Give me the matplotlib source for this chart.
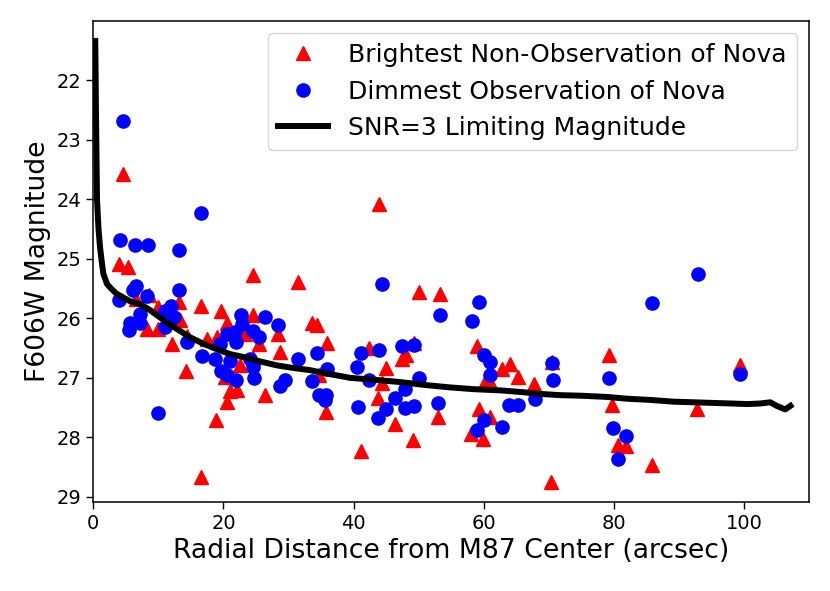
import matplotlib
matplotlib.use("Agg")
import matplotlib.pyplot as plt

# Brightest non-observation of nova (red triangles)
tri_x = [4.5, 4.0, 5.4, 6.5, 8.6, 8.3, 10.0, 10.0, 13.2, 13.3, 12.05, 14.4, 14.25,
         16.5, 17.5, 19.0, 19.6, 20.5, 24.6, 24.6, 23.3, 25.4, 28.4, 28.7, 24.6,
         22.55, 21.0, 22.0, 20.5, 20.2, 26.4, 18.9, 16.56, 31.5, 33.6, 34.4, 35.9,
         34.7, 35.7, 43.9, 50.1, 53.3, 42.4, 49.2, 47.4, 48.1, 45.0, 44.3, 43.8,
         46.4, 49.1, 41.1, 58.9, 60.2, 61.0, 62.8, 64.0, 65.3, 67.7, 70.5, 59.2,
         61.0, 58.0, 59.9, 52.9, 70.3, 79.2, 99.4, 79.7, 92.8, 80.6, 81.9, 85.9]
tri_m = [23.58, 25.09, 25.14, 25.68, 25.60, 26.18, 26.18, 25.81, 25.72, 26.03, 26.43,
         26.30, 26.88, 25.80, 26.34, 26.32, 25.88, 26.07, 25.28, 25.95, 26.26, 26.43,
         26.26, 26.57, 26.66, 26.79, 27.22, 27.20, 27.41, 26.99, 27.29, 27.70, 28.66,
         25.39, 26.07, 26.12, 26.42, 26.95, 27.58, 24.08, 25.56, 25.59, 26.50, 26.42,
         26.68, 26.62, 26.83, 27.09, 27.33, 27.77, 28.04, 28.22, 26.46, 27.07, 27.07,
         26.85, 26.77, 26.98, 27.11, 26.74, 27.52, 27.66, 27.95, 28.02, 27.65, 28.75,
         26.61, 26.79, 27.46, 27.52, 28.13, 28.15, 28.47]

# Dimmest observation of nova (blue circles)
dot_x = [4.5, 16.56, 4.1, 6.36, 8.4, 13.1, 13.1, 6.56, 6.05, 8.2, 4.0, 11.9, 11.0,
         12.4, 7.2, 5.6, 7.2, 5.5, 11.0, 14.4, 16.7, 22.65, 26.4, 28.3, 22.8, 20.5,
         21.8, 24.6, 25.4, 21.9, 19.4, 18.7, 21.0, 24.1, 24.6, 31.5, 34.3, 35.9,
         19.6, 20.5, 21.9, 24.7, 28.7, 29.5, 33.6, 34.6, 35.8, 35.6, 10.0, 44.3,
         53.3, 58.2, 59.3, 41.2, 40.5, 43.9, 47.4, 49.2, 42.3, 50.1, 47.9, 46.4,
         45.0, 43.8, 40.6, 47.9, 49.2, 52.9, 60.0, 61.0, 61.0, 63.8, 65.3, 67.8,
         60.0, 59.0, 62.8, 70.5, 70.6, 92.9, 85.9, 79.2, 99.4, 79.8, 81.9, 80.6]
dot_m = [22.68, 24.23, 24.68, 24.76, 24.76, 24.86, 25.53, 25.45, 25.52, 25.62, 25.69,
         25.80, 25.87, 25.97, 25.92, 26.07, 26.08, 26.20, 26.15, 26.40, 26.63, 25.94,
         25.97, 26.12, 26.09, 26.26, 26.23, 26.22, 26.32, 26.40, 26.43, 26.68, 26.71,
         26.68, 26.82, 26.69, 26.58, 26.85, 26.89, 26.96, 27.04, 27.01, 27.13, 27.04,
         27.06, 27.29, 27.28, 27.37, 27.59, 25.42, 25.94, 26.05, 25.73, 26.59, 26.82,
         26.53, 26.47, 26.44, 27.04, 27.00, 27.19, 27.34, 27.52, 27.67, 27.49, 27.51,
         27.47, 27.42, 26.61, 26.74, 26.96, 27.46, 27.46, 27.36, 27.71, 27.87, 27.83,
         26.75, 27.04, 25.25, 25.75, 27.00, 26.94, 27.84, 27.98, 28.36]

# SNR=3 limiting magnitude curve
lim_x = [0.3, 0.35, 0.4, 0.46, 0.57, 0.8, 1.03, 1.3, 1.54, 2.1, 2.57, 3.5, 4.6, 5.6,
         7.2, 8.7, 9.8, 12.0, 14.9, 17.0, 19.0, 21.0, 23.1, 25.5, 28.2, 30.5, 33.3,
         36.0, 39.5, 43.0, 47.1, 51.0, 54.8, 58.5, 62.5, 66.0, 68.7, 71.7, 75.0,
         78.9, 82.0, 85.5, 89.2, 92.2, 95.0, 97.9, 100.5, 102.5, 104.0, 105.0,
         106.3, 107.1]
lim_m = [21.34, 21.8, 22.4, 23.0, 24.0, 24.5, 24.8, 25.05, 25.25, 25.42, 25.48, 25.58,
         25.65, 25.71, 25.76, 25.86, 25.95, 26.12, 26.32, 26.43, 26.52, 26.60, 26.65,
         26.72, 26.79, 26.83, 26.87, 26.93, 27.00, 27.03, 27.07, 27.12, 27.16, 27.19,
         27.21, 27.24, 27.27, 27.29, 27.30, 27.32, 27.35, 27.37, 27.40, 27.41, 27.42,
         27.43, 27.44, 27.43, 27.41, 27.47, 27.53, 27.47]

fig = plt.figure(figsize=(8.3, 5.91), dpi=100)
ax = fig.add_axes([93.3 / 830, 1 - 501.7 / 591, (809.3 - 93.3) / 830, (501.7 - 20.7) / 591])

ax.plot(tri_x, tri_m, linestyle="none", marker="^", color="red", markersize=10,
        label="Brightest Non-Observation of Nova")
ax.plot(dot_x, dot_m, linestyle="none", marker="o", color="blue", markersize=9.5,
        label="Dimmest Observation of Nova")
ax.plot(lim_x, lim_m, color="black", linewidth=4.3, label="SNR=3 Limiting Magnitude")

ax.set_xlim(0, 110)
ax.set_ylim(29.08, 21.0)
ax.set_xticks([0, 20, 40, 60, 80, 100])
ax.set_yticks([22, 23, 24, 25, 26, 27, 28, 29])
ax.tick_params(labelsize=14, length=5, width=1)
for s in ax.spines.values():
    s.set_linewidth(1.1)

ax.set_xlabel("Radial Distance from M87 Center (arcsec)", fontsize=19.2)
ax.set_ylabel("F606W Magnitude", fontsize=19.2)
ax.legend(loc="upper right", fontsize=18, handlelength=2.0)

fig.savefig("out.png", dpi=100)
